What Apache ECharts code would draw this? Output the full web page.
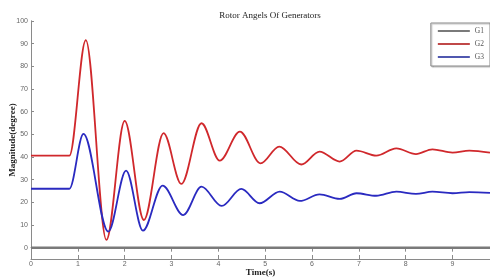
<!DOCTYPE html>
<html>
<head>
<meta charset="utf-8">
<script src="https://cdn.jsdelivr.net/npm/echarts@6/dist/echarts.min.js"></script>
<style>html,body{margin:0;padding:0;background:#fff;}#c{width:490px;height:278px;}</style>
</head>
<body>
<div id="c"></div>
<script>
var g1Time = [0, 9.8];
var g1Value = [0, 0];
var g2Time = [0, 0.82, 1.17, 1.61, 2.0, 2.41, 2.83, 3.21, 3.64, 4.03, 4.46, 4.9, 5.3, 5.77, 6.16, 6.59, 6.95, 7.37, 7.8, 8.22, 8.57, 9.0, 9.36, 9.8];
var g2Value = [40.6, 40.6, 91.6, 3.4, 55.9, 12.2, 50.5, 28.1, 54.9, 38.4, 51.2, 37.2, 44.6, 36.7, 42.4, 38.0, 42.8, 40.6, 43.8, 41.3, 43.4, 41.9, 42.8, 41.9];
var g3Time = [0, 0.82, 1.12, 1.65, 2.03, 2.39, 2.81, 3.25, 3.64, 4.07, 4.49, 4.88, 5.31, 5.74, 6.16, 6.59, 6.95, 7.37, 7.8, 8.22, 8.57, 9.0, 9.36, 9.8];
var g3Value = [26.0, 26.0, 50.2, 7.1, 34.0, 7.5, 27.4, 14.4, 26.9, 18.4, 25.9, 19.6, 24.7, 20.6, 23.5, 21.5, 24.0, 22.9, 24.7, 23.7, 24.7, 24.0, 24.5, 24.2];
var xTicks = [0, 1, 2, 3, 4, 5, 6, 7, 8, 9];
var yTicks = [0, 10, 20, 30, 40, 50, 60, 70, 80, 90, 100];
var seriesNames = ['G1', 'G2', 'G3'];

function pairs(t, v) { return t.map(function (x, i) { return [x, v[i]]; }); }

var chart = echarts.init(document.getElementById('c'), null, {renderer: 'canvas'});
var axisLineStyle = {color: '#8a8a8a', width: 1};
chart.setOption({
  animation: false,
  backgroundColor: '#ffffff',
  title: {
    text: 'Rotor Angels Of Generators',
    left: 265, top: 6, textAlign: 'center',
    textStyle: {fontFamily: 'Liberation Serif', fontSize: 9, fontWeight: 'normal', color: '#222'}
  },
  legend: {
    data: seriesNames,
    orient: 'vertical',
    right: 0, top: 23,
    padding: [4, 6, 5, 7],
    itemGap: 5,
    icon: 'rect',
    itemWidth: 32, itemHeight: 2,
    backgroundColor: '#ffffff',
    borderColor: '#8a8a8a', borderWidth: 1,
    shadowColor: 'rgba(0,0,0,0.25)', shadowOffsetX: 1, shadowOffsetY: 1, shadowBlur: 1,
    textStyle: {fontFamily: 'Liberation Serif', fontSize: 7.5, color: '#555', lineHeight: 8}
  },
  grid: {left: 31, right: 0, top: 21, bottom: 19, outerBoundsMode: 'none', containLabel: false},
  xAxis: [{
    type: 'value', min: 0, max: 9.8, interval: 1,
    name: 'Time(s)', nameLocation: 'middle', nameGap: 9, nameMoveOverlap: false,
    nameTextStyle: {fontFamily: 'Liberation Serif', fontSize: 9, fontWeight: 'bold', color: '#222'},
    axisLine: {show: true, onZero: false, lineStyle: axisLineStyle},
    axisTick: {show: true, inside: true, length: 4, lineStyle: axisLineStyle, customValues: xTicks},
    axisLabel: {fontFamily: 'Liberation Sans', fontSize: 7, color: '#666', margin: 2, customValues: xTicks},
    splitLine: {show: false}
  }, {
    type: 'value', position: 'top', min: 0, max: 9.8, interval: 1,
    axisLine: {show: true, lineStyle: axisLineStyle},
    axisTick: {show: true, inside: true, length: 4, lineStyle: axisLineStyle, customValues: xTicks.slice(1)},
    axisLabel: {show: false},
    splitLine: {show: false}
  }],
  yAxis: [{
    type: 'value', min: -5, max: 100,
    name: 'Magnitude(degree)', nameLocation: 'middle', nameGap: 14, nameMoveOverlap: false,
    nameTextStyle: {fontFamily: 'Liberation Serif', fontSize: 9, fontWeight: 'bold', color: '#222'},
    axisLine: {show: true, onZero: false, lineStyle: axisLineStyle},
    axisTick: {show: true, inside: true, length: 3, lineStyle: axisLineStyle, customValues: yTicks},
    axisLabel: {fontFamily: 'Liberation Sans', fontSize: 7, color: '#666', margin: 3, customValues: yTicks},
    splitLine: {show: false}
  }, {
    type: 'value', position: 'right', min: -5, max: 100,
    axisLine: {show: true, lineStyle: axisLineStyle},
    axisTick: {show: false}, axisLabel: {show: false}, splitLine: {show: false}
  }],
  series: [{
    name: 'G1', type: 'line', symbol: 'none', data: pairs(g1Time, g1Value),
    lineStyle: {color: '#7a7a7a', width: 2.5}, itemStyle: {color: '#7a7a7a'}
  }, {
    name: 'G2', type: 'line', symbol: 'none', smooth: 0.34, smoothMonotone: 'x', data: pairs(g2Time, g2Value),
    lineStyle: {color: '#d0282c', width: 1.8}, itemStyle: {color: '#c04848'}
  }, {
    name: 'G3', type: 'line', symbol: 'none', smooth: 0.34, smoothMonotone: 'x', data: pairs(g3Time, g3Value),
    lineStyle: {color: '#2a2ac0', width: 1.8}, itemStyle: {color: '#5058b0'}
  }]
});
</script>
</body>
</html>
